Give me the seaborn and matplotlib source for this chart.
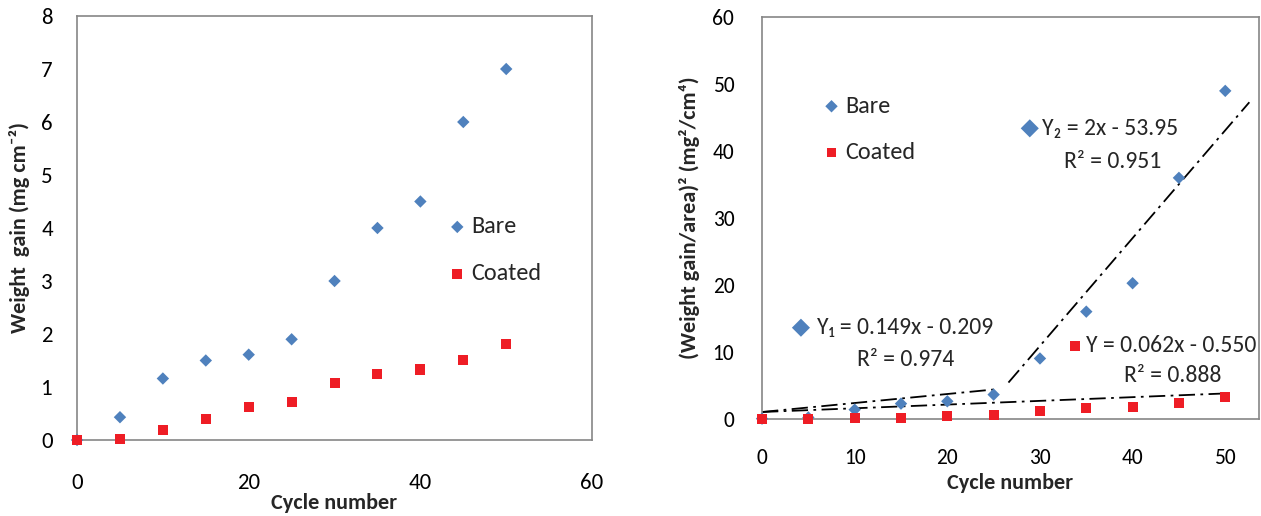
import matplotlib
matplotlib.use("Agg")
import matplotlib.pyplot as plt
import pandas as pd
import seaborn as sns

# cycle numbers shared by both panels
cycles = [0, 5, 10, 15, 20, 25, 30, 35, 40, 45, 50]

# left panel: weight gain (mg cm^-2)
bare_gain = [0.0, 0.43, 1.16, 1.50, 1.61, 1.90, 3.00, 4.00, 4.50, 6.00, 7.00]
coated_gain = [0.0, 0.01, 0.18, 0.40, 0.62, 0.71, 1.07, 1.25, 1.33, 1.51, 1.81]

# right panel: (weight gain/area)^2
bare_sq = [0.0, 0.18, 1.35, 2.25, 2.60, 3.60, 9.00, 16.0, 20.25, 36.0, 49.0]
coated_sq = [0.0, 0.0, 0.03, 0.16, 0.38, 0.50, 1.14, 1.56, 1.77, 2.28, 3.28]

# trend lines as drawn in the figure (end points)
trend_bare1_x = [0, 25.3]
trend_bare1_y = [1.0, 4.4]
trend_bare2_x = [26.6, 52.6]
trend_bare2_y = [5.4, 47.3]
trend_coated_x = [0, 50.5]
trend_coated_y = [1.0, 3.8]

BLUE = "#4F81BD"
RED = "#EE1D25"
GRAY = "#868686"

sns.set_theme(style="white")
plt.rcParams["font.family"] = ["Carlito", "DejaVu Sans"]

fig = plt.figure(figsize=(12.61, 5.16), dpi=100)
ax1 = fig.add_axes([0.0611, 0.1473, 0.4084, 0.8217])
ax2 = fig.add_axes([0.6043, 0.1886, 0.3938, 0.7779])

marker_kw = dict(edgecolor="none", legend=False, clip_on=False, zorder=3)


def style_axes(ax, fs, ypad):
    for sp in ax.spines.values():
        sp.set_color(GRAY)
        sp.set_linewidth(1.2)
    ax.tick_params(axis="both", direction="out", length=7, width=1.2, color=GRAY,
                   labelsize=fs, labelcolor="black")
    ax.tick_params(axis="y", pad=ypad)
    ax.grid(False)


def draw_series(ax, bare, coated):
    sns.scatterplot(x=cycles, y=bare, marker="D", s=40, color=BLUE, ax=ax, **marker_kw)
    sns.scatterplot(x=cycles, y=coated, marker="s", s=52, color=RED, ax=ax, **marker_kw)


# ---- left panel
draw_series(ax1, bare_gain, coated_gain)
ax1.set_xlim(0, 60)
ax1.set_ylim(0, 8)
ax1.set_xticks([0, 20, 40, 60])
ax1.set_yticks(range(0, 9))
style_axes(ax1, 16.5, 10.5)
ax1.tick_params(axis="x", pad=17)
ax1.set_xlabel("Cycle number", fontsize=16, fontweight="bold", labelpad=0)
ax1.set_ylabel("Weight  gain (mg cm⁻²)", fontsize=16, fontweight="bold", labelpad=8)

ax1.scatter([44.3], [4.02], marker="D", s=40, color=BLUE, edgecolor="none")
ax1.text(45.9, 4.02, "Bare", fontsize=17.5, va="center")
ax1.scatter([44.3], [3.14], marker="s", s=52, color=RED, edgecolor="none")
ax1.text(45.9, 3.14, "Coated", fontsize=17.5, va="center")

# ---- right panel
draw_series(ax2, bare_sq, coated_sq)
dash = (0, (9, 3, 1.5, 3))
for tx, ty in [(trend_bare1_x, trend_bare1_y), (trend_bare2_x, trend_bare2_y),
               (trend_coated_x, trend_coated_y)]:
    sns.lineplot(x=tx, y=ty, color="black", lw=1.3, linestyle=dash, ax=ax2, zorder=2)
ax2.set_xlim(0, 53.6)
ax2.set_ylim(0, 60)
ax2.set_xticks(range(0, 51, 10))
ax2.set_yticks(range(0, 61, 10))
style_axes(ax2, 15.5, 13)
ax2.tick_params(axis="x", pad=14)
ax2.set_xlabel("Cycle number", fontsize=16, fontweight="bold", labelpad=4)
ax2.set_ylabel("(Weight gain/area)² (mg²/cm⁴)", fontsize=16, fontweight="bold", labelpad=9)

ax2.scatter([7.5], [46.7], marker="D", s=40, color=BLUE, edgecolor="none")
ax2.text(9.0, 46.7, "Bare", fontsize=17.5, va="center")
ax2.scatter([7.5], [39.8], marker="s", s=50, color=RED, edgecolor="none")
ax2.text(9.0, 39.8, "Coated", fontsize=17.5, va="center")

ax2.scatter([28.9], [43.4], marker="D", s=85, color=BLUE, edgecolor="none")
ax2.text(30.2, 43.4, "Y₂ = 2x - 53.95", fontsize=17, va="center")
ax2.text(37.9, 38.5, "R² = 0.951", fontsize=17, va="center", ha="center")

ax2.scatter([4.2], [13.6], marker="D", s=85, color=BLUE, edgecolor="none")
ax2.text(5.9, 13.6, "Y₁ = 0.149x - 0.209", fontsize=17, va="center")
ax2.text(15.5, 8.9, "R² = 0.974", fontsize=17, va="center", ha="center")

ax2.scatter([33.8], [10.9], marker="s", s=50, color=RED, edgecolor="none")
ax2.text(35.0, 10.9, "Y = 0.062x - 0.550", fontsize=17, va="center")
ax2.text(44.3, 6.4, "R² = 0.888", fontsize=17, va="center", ha="center")

fig.savefig("out.png", dpi=100)
